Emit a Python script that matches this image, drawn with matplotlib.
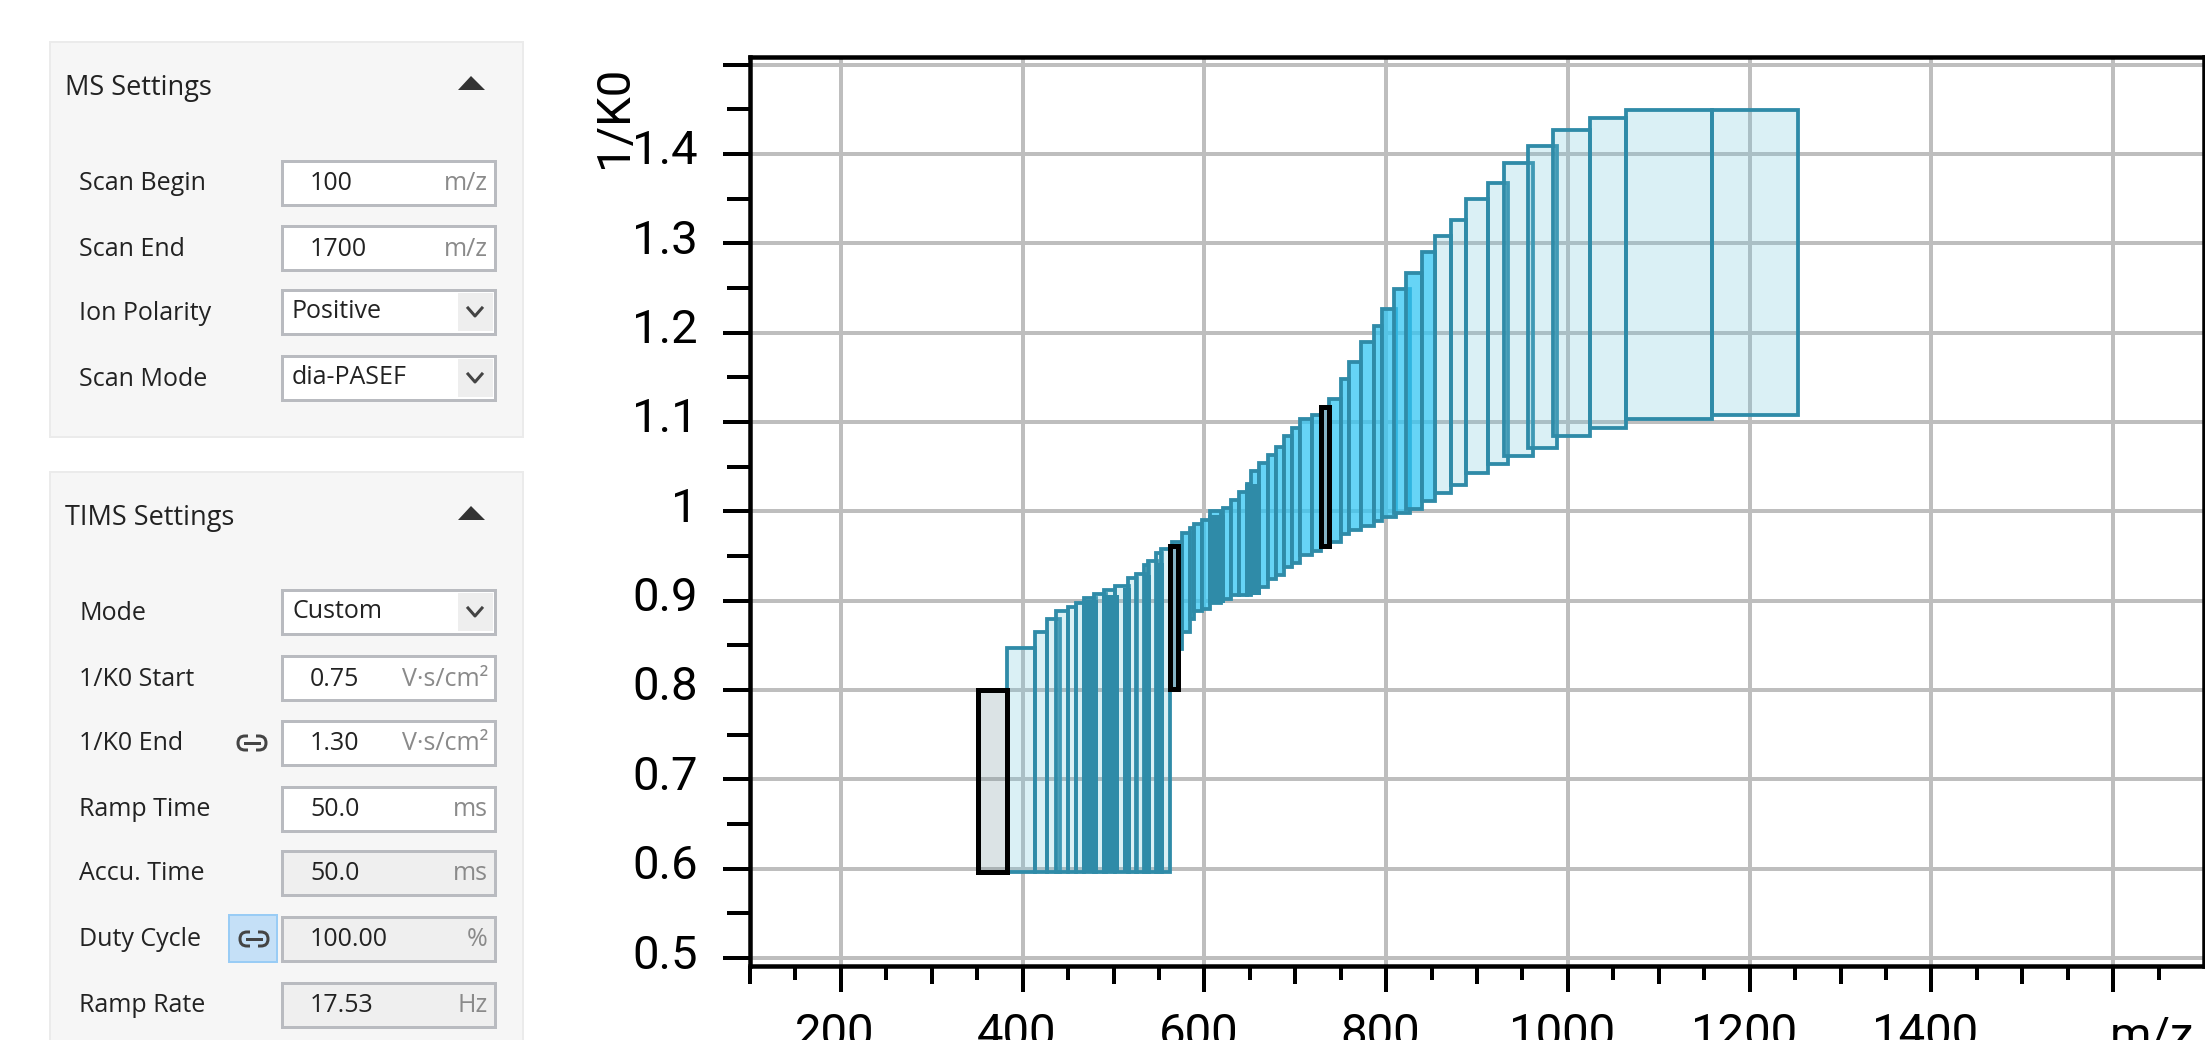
import matplotlib
matplotlib.use('Agg')
import matplotlib.pyplot as plt
from matplotlib.patches import Rectangle, FancyBboxPatch, Polygon
from matplotlib.transforms import ScaledTranslation

# окна dia-PASEF: m/z начало, m/z конец, 1/K0 низ, 1/K0 верх
low_start = [383, 413.5, 426.7, 436.6, 449.8, 458.6, 467.4, 478.4, 489.4, 502.2,
             516.2, 524.6, 533.1, 537.5, 546.6, 551.8]
low_end = [413.5, 426.7, 440.6, 449.8, 458.6, 467.4, 480.6, 492.0, 502.2, 517.0,
           525.7, 534.5, 538.9, 547.7, 553.2, 562.0]
low_top = [0.8474, 0.8653, 0.8798, 0.8888, 0.8932, 0.8977, 0.9026, 0.9070, 0.9115, 0.9160,
           0.9249, 0.9302, 0.9395, 0.9440, 0.9529, 0.9574]
low_bottom = 0.5967

mid_start = [564.2, 575.2, 584.0, 588.4, 597.2, 606.0, 620.3, 629.2, 637.9, 646.7,
             651.1, 659.9, 669.8, 678.6, 687.4, 696.3, 705.1, 718.3, 737.0, 750.2,
             759.0, 772.2, 786.5, 795.3, 808.5, 821.7, 840.0]
mid_end = [575.2, 584.0, 588.4, 597.2, 606.0, 618.2, 629.2, 637.9, 646.7, 651.1,
           659.9, 669.8, 678.6, 687.4, 696.3, 705.1, 718.3, 728.2, 750.2, 759.0,
           772.2, 786.5, 795.3, 811.4, 826.0, 840.0, 853.6]
mid_low = [0.8459, 0.8653, 0.8795, 0.8884, 0.8906, 0.8973, 0.9018, 0.9063, 0.9063, 0.9063,
           0.9108, 0.9153, 0.9242, 0.9287, 0.9376, 0.9421, 0.9511, 0.9555, 0.9656, 0.9746,
           0.9791, 0.9836, 0.9896, 0.9940, 0.9985, 1.0026, 1.0116]
mid_high = [0.9660, 0.9753, 0.9809, 0.9854, 0.9899, 1.0007, 1.0033, 1.0122, 1.0216, 1.0305,
            1.0447, 1.0536, 1.0626, 1.0715, 1.0842, 1.0932, 1.1033, 1.1077, 1.1253, 1.1481,
            1.1667, 1.1891, 1.2074, 1.2264, 1.2488, 1.2663, 1.2898]

high_start = [853.6, 871.2, 888.4, 912.2, 929.5, 955.9, 983.8, 1024.8, 1064.4, 1158.7]
high_end = [871.2, 888.4, 912.2, 934.3, 961.8, 988.2, 1024.8, 1064.4, 1158.7, 1253.3]
high_low = [1.0209, 1.0295, 1.0433, 1.0530, 1.0619, 1.0712, 1.0843, 1.0936, 1.1030, 1.1082]
high_high = [1.3085, 1.3260, 1.3495, 1.3670, 1.3898, 1.4084, 1.4267, 1.4398, 1.4487, 1.4487]

# плотные участки, где рамки окон сливаются
dense_start = [465.2, 487.2, 510.3, 532.3, 545.5, 603.8, 644.5]
dense_end = [483.2, 505.9, 519.8, 541.1, 555.4, 622.5, 662.2]
dense_low = [0.5967, 0.5967, 0.5967, 0.5967, 0.5967, 0.8973, 0.9063]
dense_high = [0.9007, 0.9063, 0.9137, 0.9290, 0.9418, 0.9958, 1.0310]

# выделенные окна
sel_start = [350.4, 562.0, 728.2]
sel_end = [383.0, 570.8, 737.0]
sel_low = [0.5967, 0.8007, 0.9611]
sel_high = [0.8000, 0.9611, 1.1170]

y_ticks = [0.5, 0.6, 0.7, 0.8, 0.9, 1.0, 1.1, 1.2, 1.3, 1.4]
y_labels = ['0.5', '0.6', '0.7', '0.8', '0.9', '1', '1.1', '1.2', '1.3', '1.4']
x_ticks = [200, 400, 600, 800, 1000, 1200, 1400, 1600]
x_labels = ['200', '400', '600', '800', '1000', '1200', '1400', '']

ms_labels = ['Scan Begin', 'Scan End', 'Ion Polarity', 'Scan Mode']
ms_values = ['100', '1700', 'Positive', 'dia-PASEF']
ms_units = ['m/z', 'm/z', '', '']
tims_labels = ['Mode', '1/K0 Start', '1/K0 End', 'Ramp Time', 'Accu. Time', 'Duty Cycle', 'Ramp Rate']
tims_values = ['Custom', '0.75', '1.30', '50.0', '50.0', '100.00', '17.53']
tims_units = ['', 'V·s/cm²', 'V·s/cm²', 'ms', 'ms', '%', 'Hz']
tims_readonly = [False, False, False, False, True, True, True]

plt.rcParams['font.family'] = ['Open Sans', 'DejaVu Sans']
px = 0.72
edge = '#2F8BA8'
axis_font = ['Roboto', 'Liberation Sans', 'DejaVu Sans']
axis_size = 34

fig = plt.figure(figsize=(22.05, 10.4), dpi=100)

# левая панель настроек, координаты в пикселях картинки
ui = fig.add_axes([0, 0, 1, 1])
ui.set_xlim(0, 2205)
ui.set_ylim(1040, 0)
ui.axis('off')


def draw_panel(top, height, title):
    ui.add_patch(Rectangle((50, top), 473, height, facecolor='#F6F6F6', edgecolor='#EBEBEB', linewidth=2 * px))
    ui.text(65, top + 46, title, fontsize=19.5, color='#222222', va='center')
    ty = top + 41
    ui.add_patch(Polygon([(458, ty + 7), (485, ty + 7), (471, ty - 7)], closed=True, facecolor='#333333', edgecolor='none'))


def draw_row(y, label, value, unit, readonly=False):
    ui.text(79, y + 1, label, fontsize=18, color='#222222', va='center')
    ui.add_patch(Rectangle((282, y - 22), 213, 44, facecolor='#EFEFEF' if readonly else 'white',
                           edgecolor='#B9BBC0', linewidth=3 * px))
    if unit == '':
        # выпадающий список
        ui.add_patch(Rectangle((458, y - 19), 35, 38, facecolor='#EEEEEE', edgecolor='none'))
        ui.plot([468, 475, 482], [y - 4, y + 4, y - 4], color='#444444', linewidth=3 * px)
        ui.text(292, y, value, fontsize=18, color='#222222', va='center')
    else:
        ui.text(310, y + 1, value, fontsize=18, color='#222222', va='center')
        ui.text(488, y + 1, unit, fontsize=18, color='#8A8A8A', va='center', ha='right')


def draw_link(x, y):
    ui.add_patch(FancyBboxPatch((x - 14, y - 7), 28, 14, boxstyle='round,pad=0,rounding_size=7',
                                facecolor='none', edgecolor='#444444', linewidth=3 * px))
    ui.add_patch(Rectangle((x - 4, y - 10), 8, 20, facecolor='#F6F6F6', edgecolor='none'))
    ui.plot([x - 7, x + 7], [y, y], color='#444444', linewidth=3 * px)


draw_panel(42, 395, 'MS Settings')
draw_panel(472, 600, 'TIMS Settings')
for y, lab, val, unit in zip([183, 248, 312, 378], ms_labels, ms_values, ms_units):
    draw_row(y, lab, val, unit)
for y, lab, val, unit, ro in zip([612, 678, 743, 809, 873, 939, 1005], tims_labels, tims_values, tims_units, tims_readonly):
    draw_row(y, lab, val, unit, ro)
draw_link(252, 743)
ui.add_patch(Rectangle((229, 915), 48, 47, facecolor='#C5E0F7', edgecolor='#99CCF5', linewidth=2 * px))
ui.add_patch(FancyBboxPatch((240, 932), 28, 14, boxstyle='round,pad=0,rounding_size=7',
                            facecolor='none', edgecolor='#444444', linewidth=3 * px))
ui.add_patch(Rectangle((250, 928), 8, 22, facecolor='#C5E0F7', edgecolor='none'))
ui.plot([247, 261], [939, 939], color='#444444', linewidth=3 * px)

# основной график
ax = fig.add_axes([750 / 2205, 1 - 965.7 / 1040, 1454 / 2205, 908.7 / 1040])


def draw_windows(start, end, low, high, face, line=edge, lw=3.8):
    heights = [h - l for h, l in zip(high, low)]
    widths = [e - s for e, s in zip(end, start)]
    ax.bar(start, heights, widths, bottom=low, align='edge', facecolor=face,
           edgecolor=line, linewidth=lw * px, zorder=3)


draw_windows(low_start, low_end, [low_bottom] * len(low_start), low_top, (113 / 255, 197 / 255, 220 / 255, 0.26))
draw_windows(high_start, high_end, high_low, high_high, (113 / 255, 197 / 255, 220 / 255, 0.26))
draw_windows(mid_start, mid_end, mid_low, mid_high, (48 / 255, 197 / 255, 244 / 255, 0.74))
ax.bar(dense_start, [h - l for h, l in zip(dense_high, dense_low)],
       [e - s for e, s in zip(dense_end, dense_start)], bottom=dense_low, align='edge',
       color=edge, linewidth=0, zorder=3.5)
sel_faces = [(112 / 255, 145 / 255, 153 / 255, 0.25), '#85B3C6', '#85B3C6']
for i in range(len(sel_start)):
    ax.bar(sel_start[i], sel_high[i] - sel_low[i], sel_end[i] - sel_start[i], bottom=sel_low[i], align='edge',
           facecolor=sel_faces[i], edgecolor='black', linewidth=5 * px, zorder=4)

ax.set_xlim(100, 1700)
ax.set_ylim(0.4914, 1.5084)
ax.set_axisbelow(True)

ax.set_xticks(x_ticks)
ax.set_xticklabels(x_labels, fontsize=axis_size, family=axis_font)
ax.set_xticks([v for v in range(100, 1700, 50) if v % 200 != 0], minor=True)
ax.set_yticks(y_ticks + [1.5])
ax.set_yticklabels(y_labels + [''], fontsize=axis_size, family=axis_font)
ax.set_yticks([0.55 + 0.1 * i for i in range(10)], minor=True)

ax.grid(True, which='major', color='#BEBEBE', linewidth=4 * px, zorder=1)
ax.tick_params(axis='x', which='major', length=26 * px, width=4 * px, pad=20 * px)
ax.tick_params(axis='x', which='minor', length=14 * px, width=4 * px)
ax.tick_params(axis='y', which='major', length=27 * px, width=4 * px, pad=25 * px)
ax.tick_params(axis='y', which='minor', length=23 * px, width=4 * px)
for v, tick in zip(ax.get_xticks(minor=True), ax.xaxis.get_minor_ticks()):
    if v % 100 == 0:
        tick.tick1line.set_markersize(18 * px)

# подписи осей в оригинале смещены относительно линий сетки
shift = ScaledTranslation(0, 7 / 100, fig.dpi_scale_trans)
for label in ax.yaxis.get_majorticklabels():
    label.set_transform(label.get_transform() + shift)
shift_x = ScaledTranslation(-6 / 100, 0, fig.dpi_scale_trans)
for label in ax.xaxis.get_majorticklabels():
    label.set_transform(label.get_transform() + shift_x)

for s in ax.spines.values():
    s.set_linewidth(4.5 * px)
    s.set_color('black')

ui.text(636, 168, '1/K0', rotation=90, fontsize=axis_size, family=axis_font, ha='right', va='bottom')
ui.text(2110, 1050, 'm/z', fontsize=axis_size, family=axis_font, ha='left', va='baseline')

fig.savefig('out.png', dpi=100)
